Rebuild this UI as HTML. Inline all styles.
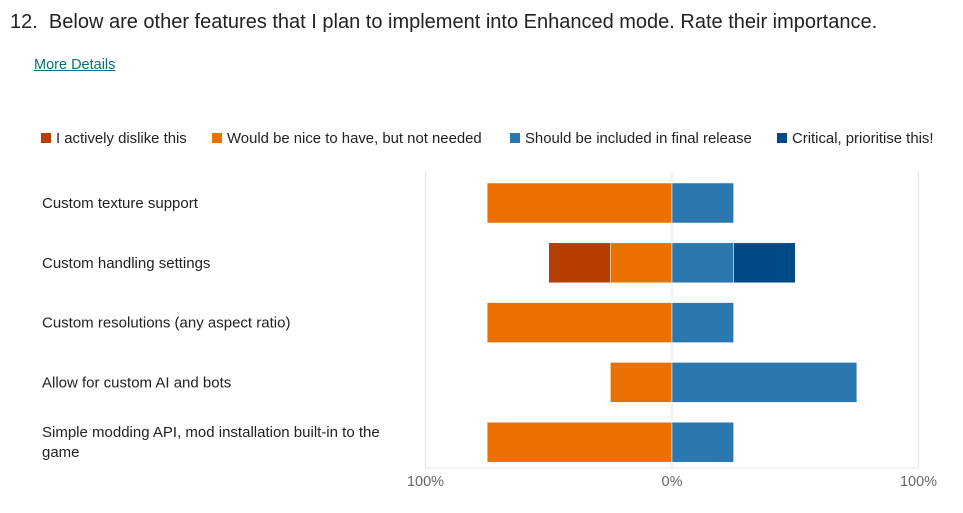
<!DOCTYPE html>
<html><head><meta charset="utf-8"><style>
body{margin:0;width:963px;height:513px;background:#fff;font-family:"Liberation Sans",sans-serif;color:#222;overflow:hidden;position:relative}
.t{position:absolute;white-space:nowrap}
</style></head><body>
<div class="t" style="left:10px;top:11px;font-size:20px;color:#222">12.&nbsp; Below are other features that I plan to implement into Enhanced mode. Rate their importance.</div>
<div class="t" style="left:34px;top:57px;font-size:14.5px;color:#0f6c7c;text-decoration:underline">More Details</div>
<svg id="c" width="963" height="513" style="position:absolute;left:0;top:0"></svg>
<script>
const categories=["Custom texture support","Custom handling settings","Custom resolutions (any aspect ratio)","Allow for custom AI and bots","Simple modding API, mod installation built-in to the game"];
const dislike=[0,25,0,0,0];
const nice=[75,25,75,25,75];
const should=[25,25,25,75,25];
const critical=[0,25,0,0,0];
const seriesNames=["I actively dislike this","Would be nice to have, but not needed","Should be included in final release","Critical, prioritise this!"];
const colors=["#b83d00","#ec7000","#2b78b0","#004b87"];
const tickLabels=["100%","0%","100%"];
const tickVals=[-100,0,100];
const svg=document.getElementById('c');const NS="http://www.w3.org/2000/svg";
const x=v=>672+v*2.465;const rowY=i=>203+i*59.8;
function mk(t,a,p){const e=document.createElementNS(NS,t);for(const k in a)e.setAttribute(k,a[k]);(p||svg).appendChild(e);return e;}
tickVals.forEach((v,i)=>{
const l=mk('line',{x1:x(v),x2:x(v),y1:172,y2:468,stroke:'#e3e3e3','stroke-width':1});


const t=mk('text',{x:x(v),y:486,'text-anchor':'middle','font-size':14.5,fill:'#666'});t.textContent=tickLabels[i];


});
const bl=mk('line',{x1:425,x2:918,y1:468,y2:468,stroke:'#e3e3e3'});


categories.forEach((c,i)=>{
const y=rowY(i);
const nd=[[-(nice[i]+dislike[i]),-nice[i],0],[-nice[i],0,1],[0,should[i],2],[should[i],should[i]+critical[i],3]];
nd.forEach(([a,b,s])=>{if(b<=a)return;
const r=mk('rect',{x:x(a),y:y-20,width:x(b)-x(a),height:40,fill:colors[s],stroke:'#fff','stroke-width':0.5});

});
const words=c.length>45?["Simple modding API, mod installation built-in to the","game"]:[c];
const t=mk('text',{x:42,y:y+5-(words.length-1)*10,'font-size':15,fill:'#222'});


words.forEach((w,k)=>{const s=mk('tspan',{x:42,dy:k?20:0},t);s.textContent=w;});
});
const lx=[41,212,510,777];
seriesNames.forEach((n,i)=>{
const r=mk('rect',{x:lx[i],y:133,width:10,height:10,fill:colors[i]});


const t=mk('text',{x:lx[i]+15,y:143,'font-size':14.9,fill:'#222'});t.textContent=n;


});
</script>
</body></html>
